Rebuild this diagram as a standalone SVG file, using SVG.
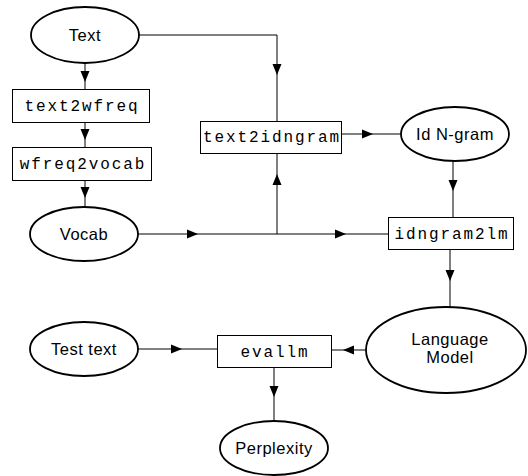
<svg xmlns="http://www.w3.org/2000/svg" xmlns:xlink="http://www.w3.org/1999/xlink" width="528" height="476" viewBox="0 0 528 476">
  <style>
    .ell { fill: #ffffff; stroke: #000000; stroke-width: 1.8; }
    .box { fill: #ffffff; stroke: #000000; stroke-width: 1; }
    .edge { fill: none; stroke: #000000; stroke-width: 1; }
    .lbl { font-family: "Liberation Sans", Arial, sans-serif; font-size: 16.5px; letter-spacing: 0.5px; fill: #000000; text-anchor: middle; }
    .cmd { font-family: "Liberation Mono", "Courier New", monospace; font-size: 16px; letter-spacing: 1.9px; fill: #000000; text-anchor: middle; }
  </style>
  <defs>
    <!-- filled arrowhead, tip at origin, pointing along +x -->
    <path id="ah" d="M0,0 L-11,-4.5 L-11,4.5 Z" fill="#000000"/>
  </defs>
  <rect width="528" height="476" fill="#ffffff"/>

  <g id="connectors">
    <!-- Text -> text2wfreq -> wfreq2vocab -> Vocab -->
    <line class="edge" x1="85" y1="63" x2="85" y2="89"/>
    <use xlink:href="#ah" transform="translate(85,82) rotate(90)"/>
    <line class="edge" x1="85" y1="122" x2="85" y2="147"/>
    <use xlink:href="#ah" transform="translate(85,140) rotate(90)"/>
    <line class="edge" x1="85" y1="180" x2="85" y2="207"/>
    <use xlink:href="#ah" transform="translate(85,198) rotate(90)"/>
    <!-- Text -> text2idngram -->
    <polyline class="edge" points="139,35 277,35 277,121"/>
    <use xlink:href="#ah" transform="translate(277,75) rotate(90)"/>
    <!-- Vocab -> text2idngram and idngram2lm -->
    <line class="edge" x1="138" y1="234" x2="388" y2="234"/>
    <use xlink:href="#ah" transform="translate(198,234)"/>
    <use xlink:href="#ah" transform="translate(346,234)"/>
    <line class="edge" x1="277" y1="234" x2="277" y2="154"/>
    <use xlink:href="#ah" transform="translate(277,174) rotate(-90)"/>
    <!-- text2idngram -> Id N-gram -->
    <line class="edge" x1="342" y1="134" x2="401" y2="134"/>
    <use xlink:href="#ah" transform="translate(373,134)"/>
    <!-- Id N-gram -> idngram2lm -->
    <line class="edge" x1="453" y1="161" x2="453" y2="217"/>
    <use xlink:href="#ah" transform="translate(453,191) rotate(90)"/>
    <!-- idngram2lm -> Language Model -->
    <line class="edge" x1="450" y1="250" x2="450" y2="307"/>
    <use xlink:href="#ah" transform="translate(450,281) rotate(90)"/>
    <!-- Language Model -> evallm -->
    <line class="edge" x1="366" y1="350" x2="331" y2="350"/>
    <use xlink:href="#ah" transform="translate(343,350) rotate(180)"/>
    <!-- Test text -> evallm -->
    <line class="edge" x1="138" y1="349" x2="217" y2="349"/>
    <use xlink:href="#ah" transform="translate(182,349)"/>
    <!-- evallm -> Perplexity -->
    <line class="edge" x1="274" y1="368" x2="274" y2="421"/>
    <use xlink:href="#ah" transform="translate(274,397) rotate(90)"/>
  </g>

  <g id="text">
    <ellipse class="ell" cx="85" cy="35" rx="54" ry="28"/>
    <text class="lbl" x="85" y="41">Text</text>
  </g>
  <g id="text2wfreq">
    <rect class="box" x="12.5" y="89.5" width="137" height="33"/>
    <text class="cmd" x="82" y="111">text2wfreq</text>
  </g>
  <g id="wfreq2vocab">
    <rect class="box" x="12.5" y="147.5" width="139" height="33"/>
    <text class="cmd" x="83" y="169">wfreq2vocab</text>
  </g>
  <g id="vocab">
    <ellipse class="ell" cx="84" cy="234" rx="54" ry="27"/>
    <text class="lbl" x="84" y="240">Vocab</text>
  </g>
  <g id="text2idngram">
    <rect class="box" x="200.5" y="121.5" width="141" height="32"/>
    <text class="cmd" x="272" y="142">text2idngram</text>
  </g>
  <g id="id-ngram">
    <ellipse class="ell" cx="455" cy="134" rx="54" ry="27"/>
    <text class="lbl" x="455" y="140">Id N-gram</text>
  </g>
  <g id="idngram2lm">
    <rect class="box" x="388.5" y="217.5" width="125" height="32"/>
    <text class="cmd" x="452" y="239">idngram2lm</text>
  </g>
  <g id="language-model">
    <ellipse class="ell" cx="446" cy="350" rx="80" ry="43"/>
    <text class="lbl" x="450" y="345">Language</text>
    <text class="lbl" x="450" y="363">Model</text>
  </g>
  <g id="test-text">
    <ellipse class="ell" cx="84" cy="349" rx="54" ry="27"/>
    <text class="lbl" x="84" y="355">Test text</text>
  </g>
  <g id="evallm">
    <rect class="box" x="217.5" y="335.5" width="114" height="32"/>
    <text class="cmd" x="275" y="357">evallm</text>
  </g>
  <g id="perplexity">
    <ellipse class="ell" cx="274" cy="448" rx="54" ry="27"/>
    <text class="lbl" x="274" y="454">Perplexity</text>
  </g>
</svg>
